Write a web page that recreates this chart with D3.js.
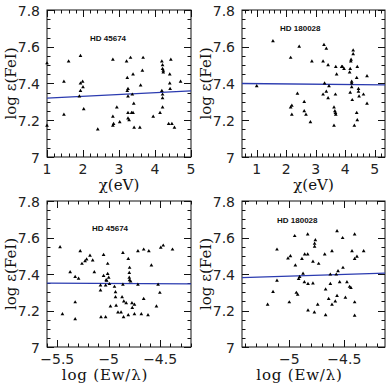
<!DOCTYPE html>
<html>
<head>
<meta charset="utf-8">
<script src="https://cdn.jsdelivr.net/npm/d3@7"></script>
<style>
  body { margin: 0; background: #fff; }
  svg { display: block; }
  .tick-label { font-family: "DejaVu Sans", sans-serif; font-size: 14px; fill: #222; }
  .axis-title { font-family: "DejaVu Serif", serif; font-size: 15px; fill: #111; }
  .star-name { font-family: "Liberation Sans", sans-serif; font-size: 8px; font-weight: bold; fill: #111; }
</style>
</head>
<body>
<div id="chart"></div>
<script>
(function() {
  var outerWidth = 388,
      outerHeight = 386;

  // HD 45674, log eps(FeI) vs excitation potential
  var p1Chi = [1.0, 1.0, 1.47, 1.47, 1.6, 1.93, 1.93, 1.93, 1.9, 1.99, 2.0, 2.02, 2.41, 2.83, 2.83, 2.83, 2.85,
               2.94, 3.02, 3.21, 3.23, 3.23, 3.25, 3.25, 3.25, 3.25, 3.28, 3.32, 3.35, 3.37, 3.39, 3.41, 3.39,
               3.42, 3.58, 3.6, 3.65, 3.67, 3.95, 4.14, 4.19, 4.21, 4.21, 4.23, 4.23, 4.19, 4.21, 4.21, 4.21,
               4.41, 4.41, 4.44, 4.42, 4.38, 4.47, 4.54, 4.71];
  var p1Fe  = [7.17, 7.51, 7.41, 7.23, 7.52, 7.55, 7.40, 7.36, 7.33, 7.41, 7.38, 7.26, 7.15, 7.53, 7.22, 7.17, 7.18,
               7.27, 7.19, 7.52, 7.43, 7.36, 7.37, 7.33, 7.24, 7.21, 7.20, 7.54, 7.24, 7.34, 7.45, 7.29, 7.24,
               7.16, 7.16, 7.39, 7.47, 7.54, 7.22, 7.24, 7.52, 7.50, 7.48, 7.47, 7.46, 7.36, 7.34, 7.32, 7.27,
               7.40, 7.45, 7.53, 7.37, 7.18, 7.18, 7.16, 7.41];

  // HD 180028, log eps(FeI) vs excitation potential
  var p2Chi = [1.0, 1.55, 2.15, 2.19, 2.15, 2.19, 2.44, 2.38, 2.61, 2.61, 2.67, 2.82, 2.87, 3.25, 3.28, 3.36,
               3.30, 3.25, 3.36, 3.42, 3.42, 3.45, 3.62, 3.65, 3.67, 3.68, 3.62, 3.67, 3.68, 3.71, 3.88, 3.91,
               3.96, 4.15, 4.17, 4.17, 4.19, 4.2, 4.22, 4.22, 4.22, 4.24, 4.27, 4.27, 4.31, 4.39, 4.41, 4.39,
               4.41, 4.45, 4.45, 4.47, 4.62, 4.74, 4.74];
  var p2Fe  = [7.385, 7.63, 7.54, 7.28, 7.27, 7.23, 7.60, 7.345, 7.30, 7.25, 7.23, 7.19, 7.52, 7.52, 7.61, 7.59,
               7.40, 7.34, 7.355, 7.32, 7.50, 7.385, 7.27, 7.25, 7.24, 7.23, 7.17, 7.34, 7.49, 7.45, 7.49, 7.49,
               7.48, 7.46, 7.48, 7.35, 7.52, 7.53, 7.41, 7.40, 7.38, 7.31, 7.58, 7.56, 7.17, 7.24, 7.20, 7.43,
               7.49, 7.37, 7.355, 7.33, 7.34, 7.29, 7.44];

  // HD 45674, log eps(FeI) vs reduced equivalent width
  var p3Ew = [-5.473, -5.45, -5.375, -5.326, -5.326, -5.326, -5.293, -5.277, -5.26, -5.23, -5.215, -5.182, -5.156,
              -5.14, -5.08, -5.08, -5.075, -5.05, -5.05, -5.03, -5.03, -5.025, -5.02, -5.01, -5.01, -5.0, -4.993,
              -4.983, -4.944, -4.934, -4.934, -4.928, -4.91, -4.88, -4.87, -4.862, -4.862, -4.853, -4.856, -4.83,
              -4.81, -4.80, -4.80, -4.797, -4.797, -4.81, -4.787, -4.774, -4.771, -4.75, -4.75, -4.716, -4.716,
              -4.683, -4.66, -4.66, -4.61, -4.618, -4.585, -4.536, -4.52, -4.503, -4.494, -4.47, -4.38];
  var p3Fe = [7.547, 7.18, 7.41, 7.384, 7.245, 7.153, 7.375, 7.525, 7.456, 7.47, 7.48, 7.50, 7.474,
              7.41, 7.337, 7.31, 7.163, 7.505, 7.39, 7.163, 7.337, 7.366, 7.364, 7.456, 7.40, 7.38, 7.345,
              7.223, 7.33, 7.30, 7.273, 7.227, 7.19, 7.19, 7.273, 7.516, 7.342, 7.25, 7.163, 7.24,
              7.483, 7.38, 7.406, 7.434, 7.366, 7.174, 7.36, 7.24, 7.214, 7.232, 7.18, 7.342, 7.525,
              7.18, 7.534, 7.263, 7.525, 7.174, 7.447, 7.223, 7.342, 7.297, 7.544, 7.556, 7.534];

  // HD 180028, log eps(FeI) vs reduced equivalent width
  var p4Ew = [-5.197, -5.148, -5.112, -5.112, -5.012, -5.0, -4.99, -4.951, -4.945, -4.936, -4.924, -4.915, -4.906,
              -4.885, -4.875, -4.86, -4.863, -4.833, -4.833, -4.83, -4.83, -4.785, -4.785, -4.772, -4.763, -4.77,
              -4.77, -4.733, -4.742, -4.678, -4.67, -4.67, -4.642, -4.627, -4.627, -4.612, -4.612, -4.582, -4.573,
              -4.566, -4.566, -4.557, -4.542, -4.515, -4.512, -4.49, -4.476, -4.452, -4.44, -4.43, -4.406, -4.406,
              -4.406, -4.406, -4.385, -4.324];
  var p4Fe = [7.232, 7.302, 7.534, 7.364, 7.485, 7.245, 7.498, 7.608, 7.447, 7.297, 7.287, 7.373, 7.384,
              7.483, 7.402, 7.507, 7.355, 7.617, 7.507, 7.346, 7.20, 7.348, 7.467, 7.19, 7.586, 7.566,
              7.55, 7.456, 7.232, 7.507, 7.315, 7.174, 7.263, 7.397, 7.346, 7.525, 7.232, 7.25, 7.397,
              7.635, 7.28, 7.415, 7.355, 7.597, 7.434, 7.27, 7.355, 7.33, 7.324, 7.525, 7.617, 7.483,
              7.245, 7.172, 7.495, 7.525];

  // least-squares lines, value at the left and right end of each x range
  var fitEnds = [[7.32, 7.36], [7.40, 7.392], [7.35, 7.346], [7.38, 7.405]];

  var starNames = ["HD 45674", "HD 180028", "HD 45674", "HD 180028"];
  var xTitles = ["\u03c7(eV)", "\u03c7(eV)", "log (Ew/\u03bb)", "log (Ew/\u03bb)"];
  var yTitle = "log \u03b5(FeI)";
  var yTicks = [7, 7.2, 7.4, 7.6, 7.8];

  var panels = [
    { xs: p1Chi, ys: p1Fe, domain: [1, 5], major: 1, minor: 0.2, fmt: d3.format("d"),
      box: [47, 10, 191, 157], name: [90, 41] },
    { xs: p2Chi, ys: p2Fe, domain: [0.5, 5.35], major: 1, minor: 0.2, fmt: d3.format("d"),
      box: [242, 10, 385, 157], name: [280, 31] },
    { xs: p3Ew, ys: p3Fe, domain: [-5.6, -4.2], major: 0.5, minor: 0.1, fmt: d3.format(".2~f"),
      box: [47, 201, 191, 347], name: [92, 231] },
    { xs: p4Ew, ys: p4Fe, domain: [-5.43, -4.13], major: 0.5, minor: 0.1, fmt: d3.format(".2~f"),
      box: [242, 201, 385, 347], name: [277, 223] }
  ];

  var svg = d3.select("#chart").append("svg")
      .attr("width", outerWidth)
      .attr("height", outerHeight);

  function ticksBetween(domain, step) {
    var lo = Math.ceil(domain[0] / step - 1e-6), hi = Math.floor(domain[1] / step + 1e-6);
    return d3.range(lo, hi + 1).map(k => +(k * step).toFixed(4));
  }

  function isMajor(v, step) {
    var r = v / step;
    return Math.abs(r - Math.round(r)) < 1e-6;
  }

  panels.forEach(function(p, i) {
    var b = p.box;
    var x = d3.scaleLinear().domain(p.domain).range([b[0], b[2]]);
    var y = d3.scaleLinear().domain([7, 7.8]).range([b[3], b[1]]);
    var g = svg.append("g");

    // frame
    g.append("rect")
        .attr("x", b[0]).attr("y", b[1])
        .attr("width", b[2] - b[0]).attr("height", b[3] - b[1])
        .attr("fill", "none")
        .attr("stroke", "#111")
        .attr("stroke-width", 1);

    // x ticks, bottom and top, pointing inward
    var xt = ticksBetween(p.domain, p.minor);
    ["bottom", "top"].forEach(function(side) {
      var y0 = side == "bottom" ? b[3] : b[1], dir = side == "bottom" ? -1 : 1;
      g.append("g").selectAll("line")
          .data(xt)
        .enter().append("line")
          .attr("x1", d => Math.round(x(d)) + 0.5)
          .attr("x2", d => Math.round(x(d)) + 0.5)
          .attr("y1", y0)
          .attr("y2", d => y0 + dir * (isMajor(d, p.major) ? 7 : 3.5))
          .attr("stroke", "#111")
          .attr("stroke-width", 1);
    });

    // y ticks, left and right
    var yt = ticksBetween([7, 7.8], 0.05);
    ["left", "right"].forEach(function(side) {
      var x0 = side == "left" ? b[0] : b[2], dir = side == "left" ? 1 : -1;
      g.append("g").selectAll("line")
          .data(yt)
        .enter().append("line")
          .attr("x1", x0)
          .attr("x2", d => x0 + dir * (isMajor(d, 0.2) ? 7 : 3.5))
          .attr("y1", d => Math.round(y(d)) + 0.5)
          .attr("y2", d => Math.round(y(d)) + 0.5)
          .attr("stroke", "#111")
          .attr("stroke-width", 1);
    });

    // tick labels
    g.append("g").selectAll("text")
        .data(yTicks)
      .enter().append("text")
        .attr("class", "tick-label")
        .attr("x", b[0] - 7)
        .attr("y", d => y(d) + 5.5)
        .attr("text-anchor", "end")
        .text(d => d3.format(".1~f")(d));

    g.append("g").selectAll("text")
        .data(ticksBetween(p.domain, p.major))
      .enter().append("text")
        .attr("class", "tick-label")
        .attr("x", d => x(d))
        .attr("y", b[3] + 17)
        .attr("text-anchor", "middle")
        .text(d => p.fmt(d).replace("-", "\u2212"));

    // axis titles
    g.append("text")
        .attr("class", "axis-title")
        .attr("x", (b[0] + b[2]) / 2 - (i >= 2 ? 14 : 0))
        .attr("y", b[3] + 33)
        .attr("text-anchor", "middle")
        .attr("letter-spacing", i >= 2 ? "0.8px" : "0px")
        .text(xTitles[i]);

    g.append("text")
        .attr("class", "axis-title")
        .attr("transform", "translate(" + (b[0] - 31) + "," + ((b[1] + b[3]) / 2) + ") rotate(-90)")
        .attr("text-anchor", "middle")
        .text(yTitle);

    // star label
    g.append("text")
        .attr("class", "star-name")
        .attr("x", p.name[0])
        .attr("y", p.name[1])
        .text(starNames[i]);

    // fitted line
    g.append("line")
        .attr("x1", x(p.domain[0])).attr("y1", y(fitEnds[i][0]))
        .attr("x2", x(p.domain[1])).attr("y2", y(fitEnds[i][1]))
        .attr("stroke", "#2b3bb0")
        .attr("stroke-width", 1.3);

    // points
    g.append("g").selectAll("path")
        .data(d3.zip(p.xs, p.ys))
      .enter().append("path")
        .attr("transform", d => "translate(" + x(d[0]) + "," + y(d[1]) + ")")
        .attr("d", d3.symbol(d3.symbolTriangle, 6))
        .attr("fill", "#000");
  });
})();
</script>
</body>
</html>
